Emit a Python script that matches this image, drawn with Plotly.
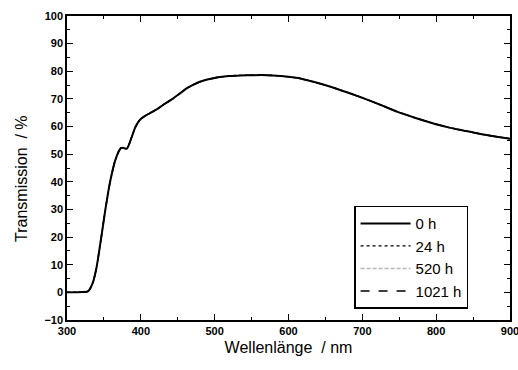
import plotly.graph_objects as go

# Wavelength (nm)
wavelength = [300, 310, 320, 327, 330, 335, 340, 347, 352, 358, 365, 370, 373, 376, 381, 384,
              388, 393, 399, 408, 415, 422, 430, 444, 453, 462, 470, 480, 490, 500, 510, 520,
              535, 553, 570, 589, 600, 616, 635, 657, 680, 702, 725, 747, 770, 793, 815, 838,
              860, 880, 900]

# Transmission (%) - the four curves coincide in the picture
t_0h = [0.0, 0.0, 0.1, 0.2, 0.8, 3.5, 9.0, 21.0, 30.0, 39.5, 47.5, 51.0, 52.2, 52.3, 52.0, 53.5,
        56.5, 60.0, 62.5, 64.2, 65.2, 66.3, 67.8, 70.2, 72.0, 73.8, 75.0, 76.2, 77.0, 77.6, 78.0, 78.3,
        78.5, 78.6, 78.6, 78.3, 78.0, 77.4, 76.1, 74.4, 72.3, 70.2, 67.8, 65.4, 63.3, 61.4, 59.8, 58.5,
        57.3, 56.4, 55.6]
t_24h = t_0h
t_520h = t_0h
t_1021h = t_0h

series_names = ["0 h", "24 h", "520 h", "1021 h"]

x_ticks = [300, 400, 500, 600, 700, 800, 900]
y_ticks = [-10, 0, 10, 20, 30, 40, 50, 60, 70, 80, 90, 100]

fig = go.Figure()
styles = {
    "1021 h": dict(color="black", dash="dash", width=1.5),
    "520 h": dict(color="#b8b8b8", dash="4px,2px", width=1.5),
    "24 h": dict(color="black", dash="dot", width=1.2),
    "0 h": dict(color="black", dash="solid", width=2),
}
data = {"0 h": t_0h, "24 h": t_24h, "520 h": t_520h, "1021 h": t_1021h}
for rank, name in reversed(list(enumerate(series_names))):
    fig.add_trace(go.Scatter(
        x=wavelength, y=data[name], mode="lines", name=name,
        line=dict(shape="spline", smoothing=0.6, **styles[name]),
        legendrank=rank + 1,
    ))

axis_common = dict(
    showline=True, linecolor="black", linewidth=1.5, mirror="allticks",
    ticks="inside", ticklen=6, tickwidth=1.3, tickcolor="black",
    showgrid=False, zeroline=False, automargin=False, ticklabeloverflow="allow",
    tickfont=dict(family="Arial, Liberation Sans", size=11, color="black", weight="bold"),
)

fig.update_xaxes(
    range=[300, 900], tickvals=x_ticks,
    minor=dict(dtick=50, ticks="inside", ticklen=3, tickwidth=1.2, tickcolor="black", showgrid=False),
    title=dict(text="Wellenlänge  / nm", font=dict(family="Arial, Liberation Sans", size=16, color="black"),
               standoff=6),
    **axis_common,
)
fig.update_yaxes(
    range=[-10, 100], tickvals=y_ticks,
    minor=dict(dtick=5, ticks="inside", ticklen=3, tickwidth=1.2, tickcolor="black", showgrid=False),
    **axis_common,
)

fig.add_annotation(
    text="Transmission  / %", textangle=-90, showarrow=False,
    xref="paper", yref="paper", x=-0.104, y=0.467, xanchor="center", yanchor="middle",
    font=dict(family="Arial, Liberation Sans", size=16, color="black"),
)

fig.update_layout(
    width=518, height=370,
    margin=dict(l=67, r=8, t=16, b=50),
    paper_bgcolor="white", plot_bgcolor="white",
    showlegend=True,
    legend=dict(
        x=0.648, y=0.376, xanchor="left", yanchor="top",
        bgcolor="white", bordercolor="black", borderwidth=1.5,
        font=dict(family="Arial, Liberation Sans", size=15, color="black"),
        traceorder="normal", itemwidth=50, tracegroupgap=0,
        entrywidth=70, entrywidthmode="pixels",
    ),
)

fig.write_html("out.html", config={"displayModeBar": False},
               post_script="document.body.style.margin='0';document.body.style.padding='0';")
